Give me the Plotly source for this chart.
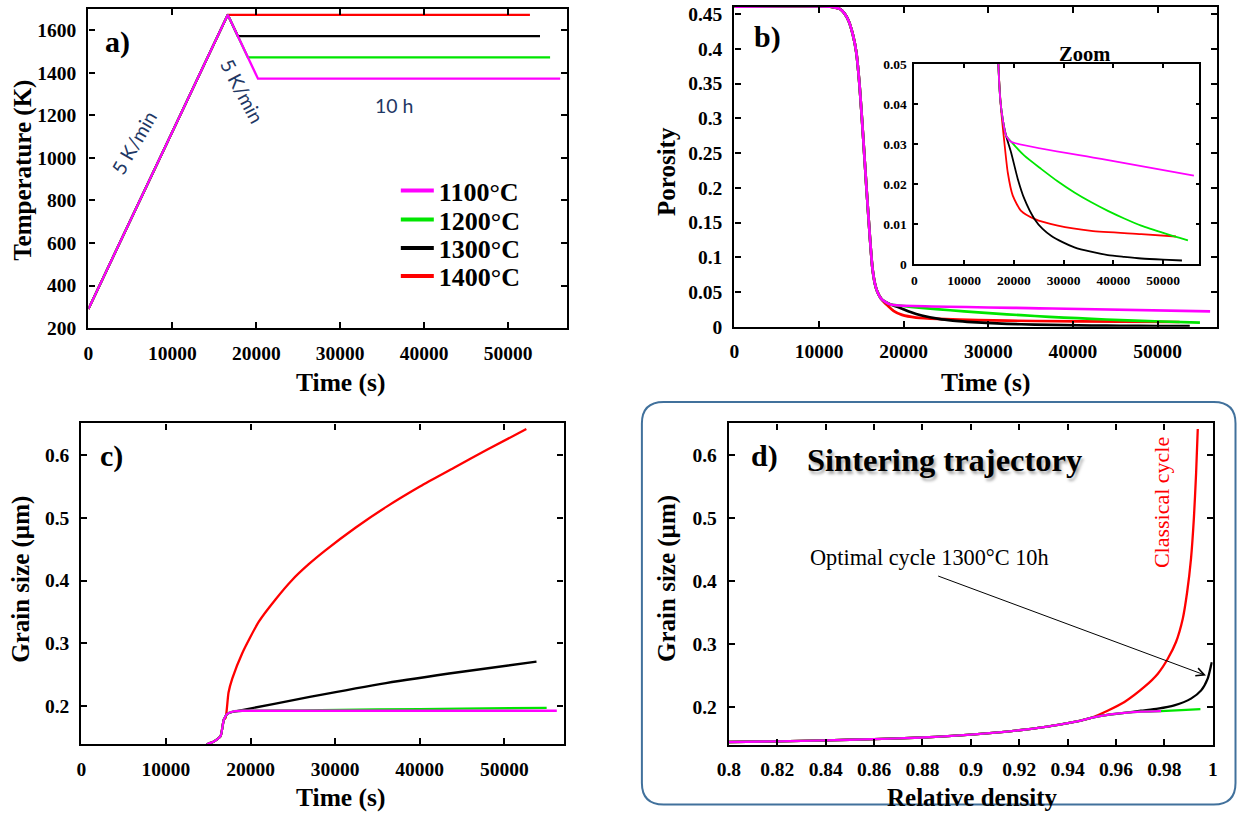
import plotly.graph_objects as go

W, H = 1241, 816
SERIF = "Liberation Serif"
SANS = "Lato"

# Reference pixel positions -> page positions (small correction measured from
# the previous renders so that the photographed page lines up with the reference).
SX, OX = 0.986, 11.3
SY, OY = 0.978, 7.9


def px(x):
    return min(max((x - OX) / SX, 0), W - 0.5) / W


def py(y):
    return 1 - min(max((y - OY) / SY, 0), H - 0.5) / H


# ---------------- data ----------------
series_names = ["1100°C", "1200°C", "1300°C", "1400°C"]
series_colors = ["#FF00FF", "#00E600", "#000000", "#FF0000"]

# a) temperature cycles (time s, temperature K)
temp_t_1100 = [0, 16600, 20200, 56200]
temp_K_1100 = [290, 1673, 1373, 1373]
temp_t_1200 = [0, 16600, 19000, 55000]
temp_K_1200 = [290, 1673, 1473, 1473]
temp_t_1300 = [0, 16600, 17800, 53800]
temp_K_1300 = [290, 1673, 1573, 1573]
temp_t_1400 = [0, 16600, 52600]
temp_K_1400 = [290, 1673, 1673]

# b) porosity vs time: common heating part + individual tails
por_t_common = [0, 11500, 12500, 13000, 13500, 14000, 14400, 14800, 15200, 15600, 16000, 16300, 16600, 16900]
por_common = [0.4606, 0.4603, 0.457, 0.451, 0.44, 0.42, 0.395, 0.345, 0.275, 0.20, 0.13, 0.085, 0.062, 0.05]
por_t_1100 = [17300, 17780, 18450, 19460, 37570, 56200]
por_1100 = [0.041, 0.0362, 0.0321, 0.0306, 0.0263, 0.0221]
por_t_1200 = [17300, 17780, 18450, 19460, 22130, 25490, 28800, 32190, 35500, 38910, 42200, 45610, 50500, 55000]
por_1200 = [0.041, 0.0362, 0.0321, 0.0306, 0.0271, 0.0238, 0.0207, 0.0179, 0.0155, 0.0133, 0.0114, 0.0096, 0.0076, 0.0059]
por_t_1300 = [17300, 17780, 18450, 19460, 20800, 22130, 24150, 25800, 27500, 29800, 32190, 35500, 38910, 42200, 45610, 50000, 53800]
por_1300 = [0.041, 0.0362, 0.0321, 0.0279, 0.0213, 0.0163, 0.0113, 0.0088, 0.0071, 0.0055, 0.0042, 0.0031, 0.00225, 0.0018, 0.0014, 0.0011, 0.0009]
por_t_1400 = [17440, 18110, 18790, 19800, 21470, 24150, 28850, 35550, 45610, 52600]
por_1400 = [0.0388, 0.0304, 0.0229, 0.0171, 0.0133, 0.0113, 0.0096, 0.0083, 0.0075, 0.0069]

# c) grain size (um) vs time
gr_t_common = [0, 14500, 15000, 15500, 16000, 16460, 16850]
gr_common = [0.136, 0.136, 0.1405, 0.143, 0.147, 0.1525, 0.179]
gr_t_1100 = [17250, 18030, 19000, 56200]
gr_1100 = [0.188, 0.192, 0.193, 0.193]
gr_t_1200 = [17250, 18030, 19000, 26000, 35000, 45000, 55000]
gr_1200 = [0.188, 0.192, 0.193, 0.1935, 0.195, 0.1963, 0.1975]
gr_t_1300 = [17250, 17840, 18230, 27000, 36000, 45000, 53800]
gr_1300 = [0.188, 0.191, 0.192, 0.215, 0.237, 0.255, 0.271]
gr_t_1400 = [17050, 17400, 17840, 19020, 20980, 22950, 24920, 26880, 28850, 32400, 36140, 40070, 44000, 47940, 52600]
gr_1400 = [0.1815, 0.222, 0.244, 0.2845, 0.3347, 0.370, 0.401, 0.426, 0.448, 0.484, 0.518, 0.550, 0.579, 0.608, 0.641]

# d) sintering trajectory: grain size vs relative density
dens_common = [0.80, 0.82, 0.84, 0.86, 0.88, 0.90, 0.92, 0.93, 0.94, 0.945]
grd_common = [0.1444, 0.1455, 0.147, 0.149, 0.1515, 0.156, 0.163, 0.168, 0.1745, 0.178]
dens_1100 = [0.9497, 0.9565, 0.9635, 0.9703, 0.9786]
grd_1100 = [0.1826, 0.1875, 0.1905, 0.1925, 0.1935]
dens_1200 = [0.9497, 0.9565, 0.9635, 0.9703, 0.9786, 0.9870, 0.9949]
grd_1200 = [0.1826, 0.1875, 0.1905, 0.1925, 0.1935, 0.1948, 0.1965]
dens_1300 = [0.9497, 0.9565, 0.9635, 0.9703, 0.9773, 0.9841, 0.9910, 0.9952, 0.9979, 0.9993, 0.9996]
grd_1300 = [0.1826, 0.1875, 0.1905, 0.1940, 0.1973, 0.2025, 0.2132, 0.2263, 0.2450, 0.2660, 0.2710]
dens_1400 = [0.9497, 0.9565, 0.9635, 0.9717, 0.9773, 0.9814, 0.9848, 0.9876, 0.9894, 0.9910, 0.9922, 0.9931, 0.9938]
grd_1400 = [0.1826, 0.1940, 0.2079, 0.2317, 0.2528, 0.2765, 0.3030, 0.3400, 0.3820, 0.4350, 0.5000, 0.5700, 0.6410]

# tick labels
time_ticks = [0, 10000, 20000, 30000, 40000, 50000]
time_ticktext = ["0", "10000", "20000", "30000", "40000", "50000"]
temp_ticks = [200, 400, 600, 800, 1000, 1200, 1400, 1600]
temp_ticktext = ["200", "400", "600", "800", "1000", "1200", "1400", "1600"]
por_ticks = [0, 0.05, 0.1, 0.15, 0.2, 0.25, 0.3, 0.35, 0.4, 0.45]
por_ticktext = ["0", "0.05", "0.1", "0.15", "0.2", "0.25", "0.3", "0.35", "0.4", "0.45"]
zoom_ticks = [0, 0.01, 0.02, 0.03, 0.04, 0.05]
zoom_ticktext = ["0", "0.01", "0.02", "0.03", "0.04", "0.05"]
grain_ticks = [0.2, 0.3, 0.4, 0.5, 0.6]
grain_ticktext = ["0.2", "0.3", "0.4", "0.5", "0.6"]
dens_ticks = [0.8, 0.82, 0.84, 0.86, 0.88, 0.9, 0.92, 0.94, 0.96, 0.98, 1.0]
dens_ticktext = ["0.8", "0.82", "0.84", "0.86", "0.88", "0.9", "0.92", "0.94", "0.96", "0.98", "1"]

# ---------------- figure ----------------
fig = go.Figure()
C1100, C1200, C1300, C1400 = series_colors


def line(xs, ys, color, width, xa, ya, smooth=False):
    ln = dict(color=color, width=width)
    if smooth:
        ln.update(shape="spline", smoothing=0.6)
    fig.add_trace(go.Scatter(x=xs, y=ys, mode="lines", line=ln,
                             xaxis=xa, yaxis=ya, showlegend=False, hoverinfo="skip"))


# a)
line(temp_t_1400, temp_K_1400, C1400, 2.3, "x", "y")
line(temp_t_1300, temp_K_1300, C1300, 2.3, "x", "y")
line(temp_t_1200, temp_K_1200, C1200, 2.3, "x", "y")
line(temp_t_1100, temp_K_1100, C1100, 2.3, "x", "y")

# legend entries (one legend per row, to match the row spacing)
legend_ids = ["legend", "legend2", "legend3", "legend4"]
legend_rows = [191.5, 220.5, 249, 277]
for name, col, lid in zip(series_names, series_colors, legend_ids):
    fig.add_trace(go.Scatter(x=[None], y=[None], mode="lines", name=name, legend=lid,
                             line=dict(color=col, width=4), xaxis="x", yaxis="y"))

# b) main + inset
tails_b = [(por_t_1400, por_1400, C1400), (por_t_1300, por_1300, C1300),
           (por_t_1200, por_1200, C1200), (por_t_1100, por_1100, C1100)]
for (tt, pp, col) in tails_b:
    line(por_t_common + tt, por_common + pp, col, 2.7, "x2", "y2", smooth=True)
for (tt, pp, col) in tails_b:
    line(por_t_common + tt, por_common + pp, col, 1.8, "x3", "y3", smooth=True)

# c)
for (tt, gg, col) in [(gr_t_1400, gr_1400, C1400), (gr_t_1300, gr_1300, C1300),
                      (gr_t_1200, gr_1200, C1200), (gr_t_1100, gr_1100, C1100)]:
    line(gr_t_common + tt, gr_common + gg, col, 2.3, "x4", "y4", smooth=True)

# d)
for (dd, gg, col) in [(dens_1400, grd_1400, C1400), (dens_1300, grd_1300, C1300),
                      (dens_1200, grd_1200, C1200), (dens_1100, grd_1100, C1100)]:
    line(dens_common + dd, grd_common + gg, col, 2.3, "x5", "y5", smooth=True)


def axis(domain, anchor, rng, vals, text, fsize=19.5, lw=2.3, tlen=6, standoff=6):
    return dict(domain=domain, anchor=anchor, range=rng, tickmode="array", tickvals=vals,
                ticktext=text, showline=True, linecolor="black", linewidth=lw, mirror="ticks",
                ticks="inside", ticklen=tlen, tickwidth=2, tickcolor="black", showgrid=False,
                zeroline=False, fixedrange=True, ticklabelstandoff=standoff,
                tickfont=dict(family=SERIF, size=fsize, color="black", weight="bold"))


legend_font = dict(family=SERIF, size=26, color="black", weight="bold")
legends = {}
for lid, row in zip(legend_ids, legend_rows):
    legends[lid] = dict(x=px(395), y=py(row), xanchor="left", yanchor="middle",
                        bgcolor="rgba(0,0,0,0)", font=legend_font, itemwidth=33)

fig.update_layout(
    width=W, height=H, margin=dict(l=0, r=0, t=0, b=0),
    paper_bgcolor="white", plot_bgcolor="white",
    xaxis=axis([px(87.7), px(566)], "y", [0, 57000], time_ticks, time_ticktext),
    yaxis=axis([py(329), py(10)], "x", [200, 1700], temp_ticks, temp_ticktext),
    xaxis2=axis([px(733.5), px(1215.8)], "y2", [0, 57000], time_ticks, time_ticktext),
    yaxis2=axis([py(327.7), py(8)], "x2", [0, 0.46], por_ticks, por_ticktext),
    xaxis3=axis([px(913.3), px(1198.3)], "y3", [0, 57300], time_ticks, time_ticktext,
                fsize=13.5, lw=1.6, tlen=4, standoff=3),
    yaxis3=axis([py(265), py(65)], "x3", [0, 0.05], zoom_ticks, zoom_ticktext,
                fsize=13.5, lw=1.6, tlen=4, standoff=3),
    xaxis4=axis([px(80.6), px(562.7)], "y4", [0, 57000], time_ticks, time_ticktext),
    yaxis4=axis([py(745), py(424.3)], "x4", [0.14, 0.65], grain_ticks, grain_ticktext),
    xaxis5=axis([px(728), px(1211.7)], "y5", [0.8, 1.0], dens_ticks, dens_ticktext),
    yaxis5=axis([py(745.7), py(424.3)], "x5", [0.14, 0.65], grain_ticks, grain_ticktext),
    **legends,
)

# rounded frame around panel d
x0, x1, y0, y1 = px(641), px(1239), py(813), py(403)
rx, ry = 22 / W, 22 / H
path = (f"M {x0 + rx},{y1} L {x1 - rx},{y1} Q {x1},{y1} {x1},{y1 - ry} "
        f"L {x1},{y0 + ry} Q {x1},{y0} {x1 - rx},{y0} "
        f"L {x0 + rx},{y0} Q {x0},{y0} {x0},{y0 + ry} "
        f"L {x0},{y1 - ry} Q {x0},{y1} {x0 + rx},{y1} Z")
fig.add_shape(type="path", path=path, xref="paper", yref="paper",
              line=dict(color="#41719C", width=2), layer="below")

ann = []


def text(x, y, s, size, bold=True, family=SERIF, color="black", angle=0, **kw):
    f = dict(family=family, size=size, color=color)
    if bold:
        f["weight"] = "bold"
    f.update(kw.pop("fontextra", {}))
    ann.append(dict(x=px(x), y=py(y), xref="paper", yref="paper", text=s, showarrow=False,
                    font=f, textangle=angle, xanchor="center", yanchor="middle"))


# panel labels
text(117, 43, "a)", 30)
text(767, 38, "b)", 30)
text(111, 457, "c)", 30)
text(764, 457, "d)", 30)
# axis titles
text(22, 171, "Temperature (K)", 25, angle=-90)
text(340, 383, "Time (s)", 25.5)
text(665, 172, "Porosity", 25, angle=-90)
text(985, 383, "Time (s)", 25.5)
text(20, 580, "Grain size (µm)", 25, angle=-90)
text(340, 798, "Time (s)", 25.5)
text(666, 579, "Grain size (µm)", 25, angle=-90)
text(972, 798, "Relative density", 25)
# panel a notes
text(133, 143, "5 K/min", 19.5, bold=False, family=SANS, color="#1F3864", angle=-60)
text(242, 92, "5 K/min", 19.5, bold=False, family=SANS, color="#1F3864", angle=62)
text(394, 106, "10 h", 19.5, bold=False, family=SANS, color="#1F3864")
# inset title
text(1083, 55, "Zoom", 20.5)
# panel d notes
text(944, 461, "Sintering trajectory", 32.5,
     fontextra=dict(shadow="2px 3px 3px rgba(0,0,0,0.35)"))
text(1160, 504, "Classical cycle", 22, bold=False, color="#FF0000", angle=-90)
text(929, 558, "Optimal cycle 1300°C 10h", 22.3, bold=False)

ann.append(dict(x=0.9972, y=0.250, xref="x5", yref="y5", ax=0.8859, ay=0.4086, axref="x5", ayref="y5",
                showarrow=True, arrowhead=5, arrowsize=1.6, arrowwidth=1, arrowcolor="black", text=""))

fig.update_layout(annotations=ann)

fig.write_html("out.html", config={"displayModeBar": False},
               post_script="document.body.style.margin='0px';")
